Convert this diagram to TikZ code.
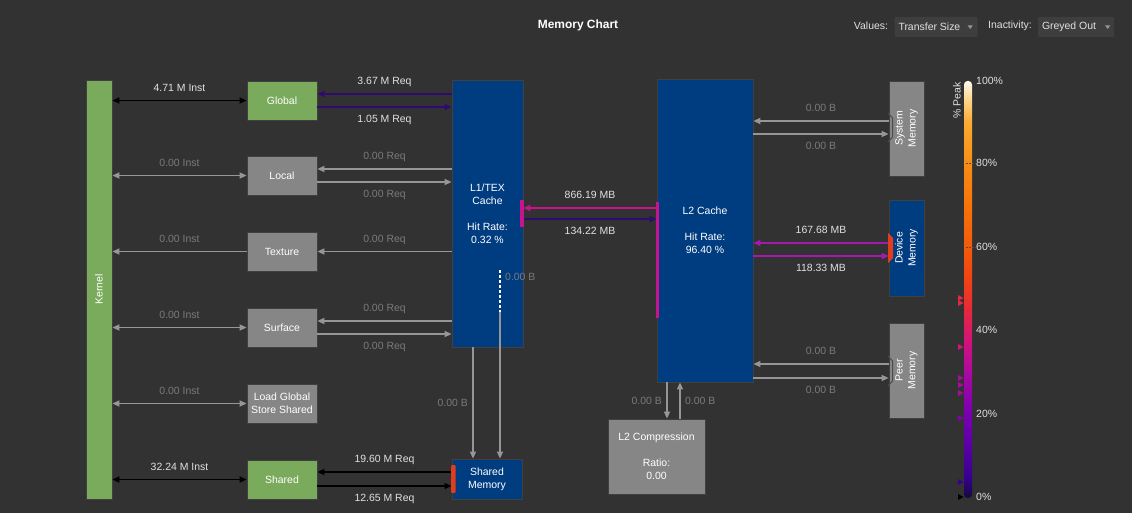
\documentclass[tikz,border=0pt]{standalone}
\usepackage{fontspec}
\setmainfont{Liberation Sans}
\usetikzlibrary{arrows.meta, calc, positioning}
\definecolor{bgdark}{RGB}{50,50,50}
\definecolor{kgreen}{RGB}{122,170,92}
\definecolor{boxgray}{RGB}{134,134,134}
\definecolor{cacheblue}{RGB}{0,60,128}
\definecolor{dimgray}{RGB}{150,150,150}
\definecolor{dimtext}{RGB}{122,122,122}
\definecolor{lbltext}{RGB}{225,225,225}
\definecolor{reqpurple}{RGB}{48,10,115}
\definecolor{hotmag}{RGB}{200,20,140}
\definecolor{devmag}{RGB}{165,25,175}
\definecolor{hotred}{RGB}{225,60,30}
\definecolor{menugray}{RGB}{62,62,62}
% colour scale of the peak bar
\definecolor{pkA}{RGB}{20,10,60}
\definecolor{pkB}{RGB}{55,0,145}
\definecolor{pkC}{RGB}{100,0,170}
\definecolor{pkD}{RGB}{130,0,175}
\definecolor{pkE}{RGB}{170,10,160}
\definecolor{pkF}{RGB}{210,20,120}
\definecolor{pkG}{RGB}{230,40,60}
\definecolor{pkH}{RGB}{240,65,20}
\definecolor{pkI}{RGB}{243,90,10}
\definecolor{pkJ}{RGB}{246,115,10}
\definecolor{pkK}{RGB}{248,140,20}
\definecolor{pkL}{RGB}{250,170,50}
\definecolor{pkN}{RGB}{252,210,130}
\definecolor{pkM}{RGB}{255,250,235}
\pgfdeclareverticalshading{peakbar}{100bp}{color(0bp)=(pkA); color(25bp)=(pkA);
  color(27.5bp)=(pkB); color(32.5bp)=(pkC); color(36bp)=(pkD); color(40bp)=(pkE);
  color(44bp)=(pkF); color(47.5bp)=(pkG); color(51bp)=(pkH); color(55bp)=(pkI);
  color(60bp)=(pkJ); color(65bp)=(pkK); color(70bp)=(pkL); color(72.5bp)=(pkN);
  color(75bp)=(pkM); color(100bp)=(pkM)}

\begin{document}
\begin{tikzpicture}[x=1bp, y=-1bp, >={Triangle[length=7bp,width=6bp]},
  every node/.style={font=\fontsize{10.5}{13}\selectfont},
  unit/.style={draw=black!75, line width=0.8bp, inner sep=0pt, text=white, align=center},
  greenbox/.style={unit, fill=kgreen, minimum width=70bp, minimum height=39bp},
  graybox/.style={unit, fill=boxgray, minimum width=70bp, minimum height=39bp},
  bluebox/.style={unit, fill=cacheblue},
  conn/.style={line width=1.6bp},
  dimconn/.style={conn, draw=dimgray},
  hotconn/.style={conn, draw=black},
  reqconn/.style={conn, draw=reqpurple},
  lblup/.style={above=3bp, text height=7.5bp, text depth=2bp, inner sep=3.5bp, text=lbltext},
  lbldn/.style={below=3.5bp, text height=7.5bp, text depth=2bp, inner sep=3.5bp, text=lbltext},
  dimlbl/.style={text=dimtext},
  menubox/.style={fill=menugray, minimum height=20bp, inner sep=0pt, rounded corners=1bp}]
  \fill[bgdark] (0,0) rectangle (1132,513);
  \useasboundingbox (0,0) rectangle (1132,513);

  % header
  \node[font=\bfseries\fontsize{12}{14}\selectfont, text=white] (title) at (578,25) {Memory Chart};
  \node[text=lbltext] (valuelbl) at (871,26) {Values:};
  \node[menubox, minimum width=83bp, label={[text=lbltext, anchor=west, inner sep=4bp]west:Transfer Size}] (valuemenu) at (936,27) {};
  \fill[dimgray] ($(valuemenu.east)+(-10,-1.5)$) -- ++(5,0) -- ++(-2.5,3.5) -- cycle;
  \node[text=lbltext] (inactlbl) at (1010,26) {Inactivity:};
  \node[menubox, minimum width=76bp, label={[text=lbltext, anchor=west, inner sep=4bp]west:Greyed Out}] (inactmenu) at (1076,27) {};
  \fill[dimgray] ($(inactmenu.east)+(-9,-1.5)$) -- ++(5,0) -- ++(-2.5,3.5) -- cycle;

  % units
  \node[greenbox, minimum width=26bp, minimum height=419bp] (kernel) at (99,289.5) {};
  \node[rotate=90, text=white] (kernlbl) at (kernel.center) {Kernel};
  \node[greenbox] (global) at (282,100.5) {Global};
  \node[graybox] (local) at (282,175.5) {Local};
  \node[graybox] (texture) at (282,251.5) {Texture};
  \node[graybox] (surface) at (282,327.5) {Surface};
  \node[graybox] (lgss) at (282,403.5) {Load Global\\Store Shared};
  \node[greenbox] (shared) at (282,479.5) {Shared};
  \node[bluebox, minimum width=71bp, minimum height=267bp] (lone) at (487.5,213.5)
    {L1/TEX\\Cache\\[13.5bp]Hit Rate:\\0.32 \%};
  \node[bluebox, minimum width=70bp, minimum height=40bp] (shmem) at (487,479) {Shared\\Memory};
  \node[bluebox, minimum width=96bp, minimum height=303bp] (ltwo) at (705,230.5)
    {L2 Cache\\[13.5bp]Hit Rate:\\96.40 \%};
  \node[graybox, minimum width=97bp, minimum height=75bp] (comp) at (656.5,456.5)
    {L2 Compression\\[13.5bp]Ratio:\\0.00};
  \node[graybox, minimum width=35bp, minimum height=95bp] (sysmem) at (906.5,128.5) {};
  \node[rotate=90, align=center, text=white] (syslbl) at (sysmem.center) {System\\Memory};
  \node[bluebox, minimum width=35bp, minimum height=96bp] (devmem) at (906.5,248) {};
  \node[rotate=90, align=center, text=white] (devlbl) at (devmem.center) {Device\\Memory};
  \node[graybox, minimum width=35bp, minimum height=95bp] (peermem) at (906.5,370.5) {};
  \node[rotate=90, align=center, text=white] (peerlbl) at (peermem.center) {Peer\\Memory};

  % kernel links
  \draw[hotconn, <->] (kernel.east |- global) -- node[lblup] {4.71 M Inst} (global.west);
  \draw[dimconn, <->] (kernel.east |- local) -- node[lblup, dimlbl] {0.00 Inst} (local.west);
  \draw[dimconn, <-] (kernel.east |- texture) -- node[lblup, dimlbl] {0.00 Inst} (texture.west);
  \draw[dimconn, <->] (kernel.east |- surface) -- node[lblup, dimlbl] {0.00 Inst} (surface.west);
  \draw[dimconn, <->] (kernel.east |- lgss) -- node[lblup, dimlbl] {0.00 Inst} (lgss.west);
  \draw[hotconn, <->] (kernel.east |- shared) -- node[lblup] {32.24 M Inst} (shared.west);

  % requests to L1/TEX and shared memory
  \draw[reqconn, <-] (global.east |- 0,94) -- node[lblup] {3.67 M Req} (lone.west |- 0,94);
  \draw[reqconn, ->] (global.east |- 0,107) -- node[lbldn] {1.05 M Req} (lone.west |- 0,107);
  \draw[dimconn, <-] (local.east |- 0,169) -- node[lblup, dimlbl] {0.00 Req} (lone.west |- 0,169);
  \draw[dimconn, ->] (local.east |- 0,182) -- node[lbldn, dimlbl] {0.00 Req} (lone.west |- 0,182);
  \draw[dimconn, <-] (texture.east) -- node[lblup, dimlbl] {0.00 Req} (lone.west |- texture);
  \draw[dimconn, <-] (surface.east |- 0,321) -- node[lblup, dimlbl] {0.00 Req} (lone.west |- 0,321);
  \draw[dimconn, ->] (surface.east |- 0,334) -- node[lbldn, dimlbl] {0.00 Req} (lone.west |- 0,334);
  \draw[hotconn, <-] (shared.east |- 0,472) -- node[lblup] {19.60 M Req} (shmem.west |- 0,472);
  \draw[hotconn, ->] (shared.east |- 0,486) -- node[lbldn] {12.65 M Req} (shmem.west |- 0,486);
  \fill[hotred, rounded corners=1bp] (451,465) rectangle (455.5,493);

  % L1/TEX to shared memory
  \coordinate (ltap) at (500,270);
  \coordinate (lbend) at (500,312);
  \draw[dimconn, ->] (lone.south -| 473,0) -- node[left=1bp, dimlbl, pos=0.5] {0.00 B} (shmem.north -| 473,0);
  \draw[draw=white!75, dash pattern=on 3bp off 2bp, line width=1.1bp] (ltap) -- (lbend);
  \draw[dimconn, ->] (lbend) -- (shmem.north -| lbend);
  \node[dimlbl, anchor=west, inner sep=2bp] (taplbl) at (503,277) {0.00 B};

  % L1/TEX to L2
  \draw[conn, draw=hotmag, <-] (lone.east |- 0,208) -- node[lblup] {866.19 MB} (ltwo.west |- 0,208);
  \draw[reqconn, ->] (lone.east |- 0,219) -- node[lbldn] {134.22 MB} (ltwo.west |- 0,219);
  \fill[hotmag] (520,200) rectangle (524,227);
  \fill[hotmag] (655.5,202) rectangle (659,318);

  % L2 to memories
  \draw[dimconn, <-] (ltwo.east |- 0,121) -- node[lblup, dimlbl] {0.00 B} (sysmem.west |- 0,121);
  \draw[dimconn, ->] (ltwo.east |- 0,134) -- node[lbldn, dimlbl] {0.00 B} (sysmem.west |- 0,134);
  \draw[conn, draw=devmag, <-] (ltwo.east |- 0,243) -- node[lblup] {167.68 MB} (devmem.west |- 0,243);
  \draw[conn, draw=devmag, ->] (ltwo.east |- 0,256) -- node[lbldn] {118.33 MB} (devmem.west |- 0,256);
  \draw[dimconn, <-] (ltwo.east |- 0,364) -- node[lblup, dimlbl] {0.00 B} (peermem.west |- 0,364);
  \draw[dimconn, ->] (ltwo.east |- 0,378) -- node[lbldn, dimlbl] {0.00 B} (peermem.west |- 0,378);
  \draw[black!70, line width=1bp] (888,113) -- (892.5,118) -- (892.5,137) -- (888,142);
  \fill[hotred] (888,233) -- (893,238) -- (893,258) -- (888,263) -- cycle;
  \draw[black!70, line width=1bp] (888,356) -- (892.5,361) -- (892.5,381) -- (888,386);

  % L2 to compression
  \draw[dimconn, ->] (ltwo.south -| 667,0) -- node[left=1bp, dimlbl] {0.00 B} (comp.north -| 667,0);
  \draw[dimconn, <-] (ltwo.south -| 680,0) -- node[right=1bp, dimlbl] {0.00 B} (comp.north -| 680,0);

  % peak scale
  \shade[shading=peakbar, rounded corners=3.5bp] (964,81) rectangle (972,498);
  \draw[black!70, dash pattern=on 1.5bp off 1.5bp, line width=0.7bp] (966,163) -- (976,163);
  \draw[black!70, dash pattern=on 1.5bp off 1.5bp, line width=0.7bp] (966,247) -- (976,247);
  \node[rotate=90, anchor=east, text=lbltext, inner sep=1bp] (peaklbl) at (957,81) {\% Peak};
  \foreach \pv/\py in {100/81, 80/163, 60/247, 40/330, 20/414, 0/497}
    \node[anchor=west, text=lbltext, inner sep=1bp] (pct\pv) at (975,\py) {\pv\%};
  \foreach \ty/\tc in {298/pkG, 303/pkG, 347/pkF, 378/pkE, 385/pkE, 393/pkE, 418/pkD, 482/pkB, 497/black}
    \fill[\tc] (958,\ty-3) -- (963.5,\ty) -- (958,\ty+3) -- cycle;
\end{tikzpicture}
\end{document}
